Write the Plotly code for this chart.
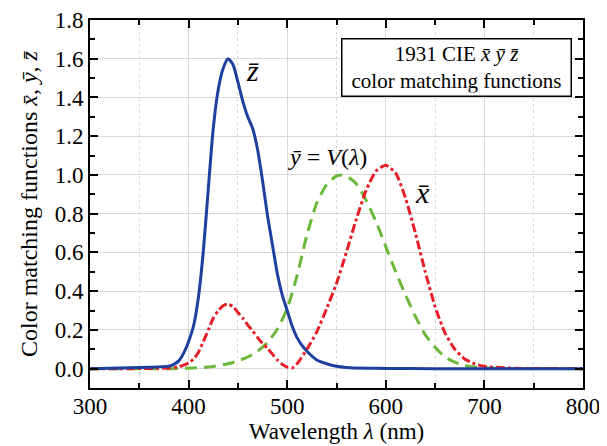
import plotly.graph_objects as go

# ---------------- data ----------------
wl_z = [300, 320, 340, 360, 380, 385, 390, 395, 400, 405, 410, 415, 420, 425, 430, 435,
        440, 445, 450, 455, 460, 465, 470, 475, 480, 485, 490, 495, 500, 505, 510, 515,
        520, 530, 540, 550, 560, 580, 600, 650, 700, 750, 800]
z_bar = [0.0, 0.002, 0.004, 0.007, 0.013, 0.022, 0.04, 0.08, 0.14, 0.22, 0.37, 0.61, 0.93, 1.24, 1.44, 1.55,
         1.60, 1.57, 1.48, 1.38, 1.30, 1.24, 1.13, 0.97, 0.79, 0.64, 0.49, 0.38, 0.30, 0.22, 0.16, 0.12,
         0.09, 0.045, 0.025, 0.012, 0.006, 0.002, 0.001, 0.0, 0.0, 0.0, 0.0]

wl_x = [300, 340, 360, 380, 390, 395, 400, 405, 410, 415, 420, 425, 430, 435, 440, 445, 450, 455,
        460, 465, 470, 475, 480, 485, 490, 495, 500, 505, 510, 520, 530, 540, 550, 560, 570, 580,
        590, 600, 610, 620, 630, 640, 650, 660, 670, 680, 690, 700, 720, 740, 800]
x_bar = [0.0, 0.0, 0.001, 0.003, 0.01, 0.018, 0.03, 0.05, 0.085, 0.14, 0.20, 0.26, 0.30, 0.325, 0.333, 0.32, 0.29, 0.26,
         0.225, 0.195, 0.16, 0.13, 0.105, 0.075, 0.045, 0.022, 0.008, 0.003, 0.025, 0.10, 0.19, 0.31, 0.44, 0.60, 0.77, 0.92,
         1.02, 1.05, 1.01, 0.88, 0.70, 0.50, 0.32, 0.185, 0.10, 0.05, 0.025, 0.012, 0.004, 0.001, 0.0]

wl_y = [300, 360, 380, 400, 420, 440, 450, 460, 470, 480, 490, 500, 510, 520, 530, 540, 550, 555,
        560, 570, 580, 590, 600, 610, 620, 630, 640, 650, 660, 670, 680, 690, 700, 720, 800]
y_bar = [0.0, 0.0, 0.0, 0.002, 0.008, 0.025, 0.04, 0.06, 0.09, 0.135, 0.205, 0.31, 0.48, 0.69, 0.855, 0.95, 0.995, 1.0,
         0.995, 0.955, 0.87, 0.76, 0.63, 0.50, 0.38, 0.27, 0.175, 0.11, 0.06, 0.033, 0.017, 0.008, 0.004, 0.001, 0.0]

x_ticks = [300, 400, 500, 600, 700, 800]
y_ticks = [0.0, 0.2, 0.4, 0.6, 0.8, 1.0, 1.2, 1.4, 1.6, 1.8]

FONT = "Liberation Serif"
BLUE = "#1d3f9f"
GREEN = "#6cb83a"
RED = "#e61e28"

fig = go.Figure()
fig.add_trace(go.Scatter(x=wl_y, y=y_bar, mode="lines",
                         line=dict(color=GREEN, width=3, dash="12px,7px", shape="spline", smoothing=0.6)))
fig.add_trace(go.Scatter(x=wl_x, y=x_bar, mode="lines",
                         line=dict(color=RED, width=3, dash="9px,3px,3px,3px", shape="spline", smoothing=0.6)))
fig.add_trace(go.Scatter(x=wl_z, y=z_bar, mode="lines",
                         line=dict(color=BLUE, width=3, shape="spline", smoothing=0.6)))

axis_common = dict(showline=True, linecolor="black", linewidth=2, mirror="ticks",
                   ticks="inside", tickcolor="black", tickwidth=1.5, ticklen=8,
                   showgrid=True, gridcolor="#d9d9d9", gridwidth=1, zeroline=False,
                   automargin=False,
                   tickfont=dict(family=FONT, size=23, color="black"))

fig.update_xaxes(range=[300, 800], tickvals=x_ticks, ticktext=[str(v) for v in x_ticks],
                 ticklabelstandoff=-4,
                 title=dict(text="Wavelength <i>λ</i> (nm)", font=dict(family=FONT, size=23, color="black"),
                            standoff=0),
                 minor=dict(dtick=50, tick0=300, ticks="inside", ticklen=5, tickcolor="black", tickwidth=1.5,
                            showgrid=True, gridcolor="#d9d9d9", griddash="dot", gridwidth=1),
                 **axis_common)
fig.update_yaxes(range=[-0.1, 1.8], tickvals=y_ticks, ticktext=[f"{v:.1f}" for v in y_ticks],
                 title=dict(text="Color matching functions <i>x̄</i>, <i>ȳ</i>, <i>z̄</i>",
                            font=dict(family=FONT, size=24, color="black"), standoff=10),
                 minor=dict(dtick=0.1, tick0=0, ticks="inside", ticklen=5, tickcolor="black", tickwidth=1.5,
                            showgrid=False),
                 **axis_common)

fig.add_annotation(x=465, y=1.54, text="<i>z̄</i>", showarrow=False,
                   font=dict(family=FONT, size=30, color="black"))
fig.add_annotation(x=541, y=1.093, text="<i>ȳ</i> = <i>V</i>(<i>λ</i>)", showarrow=False,
                   font=dict(family=FONT, size=24, color="black"))
fig.add_annotation(x=637, y=0.91, text="<i>x̄</i>", showarrow=False,
                   font=dict(family=FONT, size=30, color="black"))
fig.add_annotation(x=672, y=1.553, xref="x", yref="y",
                   text="1931 CIE <i>x̄ ȳ z̄</i><br>color matching functions", showarrow=False,
                   font=dict(family=FONT, size=21, color="black"),
                   bordercolor="black", borderwidth=1.5, borderpad=3, bgcolor="white",
                   width=222, height=50, align="center")

# page body has an 8px default margin, so the figure is sized to fit inside the window
fig.update_layout(width=599, height=438, margin=dict(l=82, r=24, t=12, b=58),
                  plot_bgcolor="white", paper_bgcolor="white", showlegend=False,
                  font=dict(family=FONT, color="black"))

fig.write_html("out.html")
